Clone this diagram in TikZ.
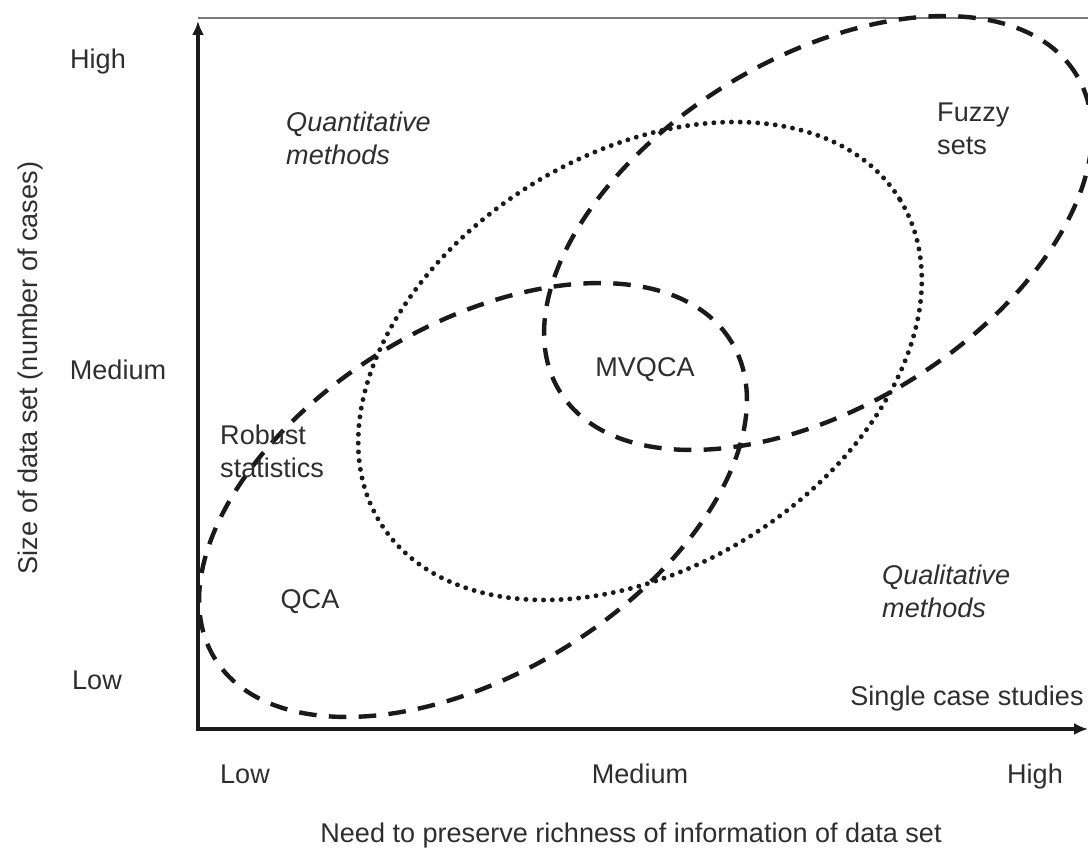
\documentclass[tikz,border=0pt]{standalone}
\usepackage{fontspec}
\setmainfont{Liberation Sans}
\usepackage{xcolor}
\usepackage{tikz}
\usetikzlibrary{arrows.meta}
\definecolor{ink}{HTML}{1A1A1A}
\definecolor{txt}{HTML}{2E2E2E}
\definecolor{rule}{HTML}{7A7A7A}
\tikzset{
  axis/.style={line width=1.3pt, draw=ink, {Latex[length=0.14cm,width=0.12cm]}-{Latex[length=0.14cm,width=0.12cm]}},
  frameline/.style={line width=0.6pt, draw=rule},
  setline/.style={line width=1.25pt, draw=ink, dash pattern=on 5pt off 3.5pt},
  dotline/.style={line width=1.4pt, draw=ink, line cap=round, dash pattern=on 0pt off 2.5pt},
  lab/.style={text=txt, inner sep=1pt, font=\fontsize{7.7}{9.4}\selectfont},
  ilab/.style={lab, align=left, font=\fontsize{7.7}{9.4}\selectfont\itshape},
}

\begin{document}
\begin{tikzpicture}
  \useasboundingbox (0,0) rectangle (10.88,8.51);
  \coordinate (YT) at (1.98,8.30);    % y axis top
  \coordinate (XR) at (10.88,1.22);   % x axis end
  \coordinate (FL) at (1.98,8.33);    % frame left
  \coordinate (FR) at (10.88,8.33);   % frame right

  \draw[frameline] (FL)--(FR);
  \draw[axis] (YT) |- (XR);

  % set centres
  \coordinate (cQCA) at (4.73,3.51);
  \coordinate (cFZ) at (8.18,6.18);
  \coordinate (cMV) at (6.40,4.90);

  \draw[setline, rotate around={31.5:(cQCA)}] (cQCA) ellipse (3.03 and 1.74);
  \draw[setline, rotate around={31.5:(cFZ)}] (cFZ) ellipse (3.03 and 1.74);
  \draw[dotline, rotate around={32:(cMV)}] (cMV) ellipse (3.06 and 2.07);

  \node[lab] (yhigh) at (0.98,7.89) {High};
  \node[lab] (ymed) at (1.18,4.81) {Medium};
  \node[lab] (ylow) at (0.97,1.71) {Low};

  \node[lab, anchor=base] (xlow) at (2.45,0.68) {Low};
  \node[lab, anchor=base] (xmed) at (6.40,0.68) {Medium};
  \node[lab, anchor=base] (xhigh) at (10.35,0.68) {High};

  \node[lab] (xtitle) at (6.31,0.16) {Need to preserve richness of information of data set};
  \node[lab, rotate=90] (ytitle) at (0.30,4.83) {Size of data set (number of cases)};

  \node[ilab, anchor=west] (quant) at (2.82,7.13) {Quantitative\\methods};
  \node[ilab, anchor=west] (qual) at (8.78,2.60) {Qualitative\\methods};
  \node[lab, align=left, anchor=west] (fuzzy) at (9.33,7.22) {Fuzzy\\sets};
  \node[lab, align=left, anchor=west] (robust) at (2.16,4.00) {Robust\\statistics};
  \node[lab] (mvqca) at (6.45,4.81) {MVQCA};
  \node[lab] (qca) at (3.10,2.49) {QCA};
  \node[lab] (single) at (9.67,1.53) {Single case studies};
\end{tikzpicture}
\end{document}
